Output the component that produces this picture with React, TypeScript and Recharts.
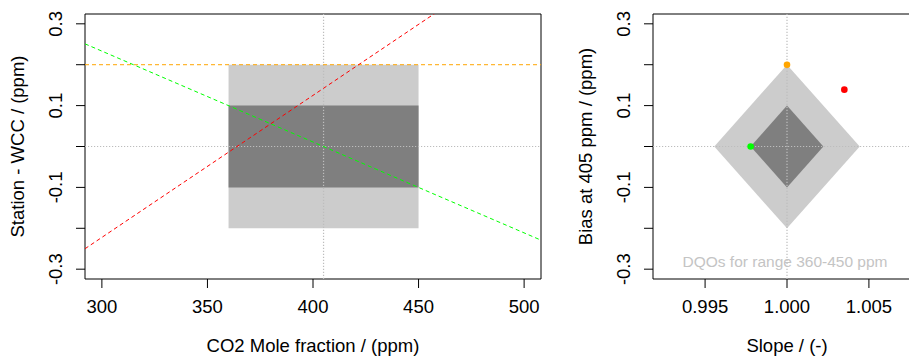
import React from 'react';
import {
  ComposedChart,
  XAxis,
  YAxis,
  Line,
  Area,
  Scatter,
  Cell,
  ReferenceArea,
  ReferenceLine,
  Label,
} from 'recharts';

const FONT = '"Liberation Sans", Arial, sans-serif';
const FS = 18.5;

// axes
const moleTicks = [300, 350, 400, 450, 500];
const biasTicks = [-0.3, -0.2, -0.1, 0, 0.1, 0.2, 0.3];
const biasLabelled = [-0.3, -0.1, 0.1, 0.3];
const slopeTicks = [0.995, 1.0, 1.005];
const moleDomain = [292, 508];
const biasDomain = [-0.324, 0.324];
const slopeDomain = [0.99182, 1.00818];

// DQO boxes (left panel)
const dqoRange = [360, 450];
const refMole = 405;
const outerLimit = 0.2;
const innerLimit = 0.1;

// fitted lines, Station - WCC vs mole fraction
const redLine = [
  { x: 292, y: -0.25 },
  { x: 508, y: 0.5 },
];
const greenLine = [
  { x: 292, y: 0.251 },
  { x: 508, y: -0.229 },
];
const orangeLine = [
  { x: 292, y: 0.2 },
  { x: 508, y: 0.2 },
];

// same fits as slope / bias at 405 ppm (right panel)
const fitSlopes = [1.0035, 0.99778, 1.0];
const fitBiases = [0.139, 0.0, 0.2];
const fitColors = ['#ff0000', '#00ff00', '#ffa500'];

// DQO diamonds (right panel)
const outerDiamond = [
  { slope: 0.99556, bias: [0, 0] },
  { slope: 1.0, bias: [-0.2, 0.2] },
  { slope: 1.00444, bias: [0, 0] },
];
const innerDiamond = [
  { slope: 0.99778, bias: [0, 0] },
  { slope: 1.0, bias: [-0.1, 0.1] },
  { slope: 1.00222, bias: [0, 0] },
];

const H = 358;
const margin = { top: 14, right: 19, bottom: 0, left: 0 };
const dotted = { stroke: '#bdbdbd', strokeWidth: 1.2, strokeDasharray: '1.2 1.8' };
const dashed = '4 3';

function BiasTick(props: any) {
  const { x, y, payload } = props;
  const v = payload.value;
  if (!biasLabelled.some((b) => Math.abs(b - v) < 1e-9)) return <g />;
  return (
    <text
      transform={`translate(${x - 14.5},${y}) rotate(-90)`}
      textAnchor="middle"
      fontSize={FS}
      fill="#000"
    >
      {v.toFixed(1)}
    </text>
  );
}

const yTitle = (text: string) => () =>
  (
    <text
      transform={`translate(24,146.5) rotate(-90)`}
      textAnchor="middle"
      fontSize={FS}
      fill="#000"
    >
      {text}
    </text>
  );

const xTitle = (text: string, cx: number) => () =>
  (
    <text x={cx} y={351.5} textAnchor="middle" fontSize={FS} fill="#000">
      {text}
    </text>
  );

function LeftPanel() {
  return (
    <ComposedChart width={560} height={H} margin={margin}>
      <XAxis
        dataKey="x"
        type="number"
        domain={moleDomain}
        ticks={moleTicks}
        allowDataOverflow
        height={79}
        axisLine={false}
        stroke="#000"
        tickSize={9}
        tickMargin={12}
        tick={{ fill: '#000', fontSize: FS }}
      >
        <Label content={xTitle('CO2 Mole fraction / (ppm)', 313)} />
      </XAxis>
      <YAxis
        type="number"
        domain={biasDomain}
        ticks={biasTicks}
        allowDataOverflow
        width={85}
        axisLine={false}
        stroke="#000"
        tickSize={9}
        tickMargin={0}
        tick={<BiasTick />}
      >
        <Label content={yTitle('Station - WCC / (ppm)')} />
      </YAxis>
      <ReferenceArea
        x1={dqoRange[0]}
        x2={dqoRange[1]}
        y1={-outerLimit}
        y2={outerLimit}
        fill="#cccccc"
        fillOpacity={1}
        stroke="none"
      />
      <ReferenceArea
        x1={dqoRange[0]}
        x2={dqoRange[1]}
        y1={-innerLimit}
        y2={innerLimit}
        fill="#7f7f7f"
        fillOpacity={1}
        stroke="none"
      />
      <ReferenceLine x={refMole} {...dotted} />
      <ReferenceLine y={0} {...dotted} />
      <Line data={orangeLine} dataKey="y" type="linear" stroke={fitColors[2]} strokeWidth={1} strokeDasharray={dashed} dot={false} isAnimationActive={false} />
      <Line data={greenLine} dataKey="y" type="linear" stroke={fitColors[1]} strokeWidth={1} strokeDasharray={dashed} dot={false} isAnimationActive={false} />
      <Line data={redLine} dataKey="y" type="linear" stroke={fitColors[0]} strokeWidth={1} strokeDasharray={dashed} dot={false} isAnimationActive={false} />
      <ReferenceArea
        x1={moleDomain[0]}
        x2={moleDomain[1]}
        y1={biasDomain[0]}
        y2={biasDomain[1]}
        fill="none"
        stroke="#000"
        strokeWidth={1}
      />
    </ComposedChart>
  );
}

function RightPanel() {
  return (
    <ComposedChart width={372} height={H} margin={margin} data={outerDiamond}>
      <XAxis
        dataKey="slope"
        type="number"
        domain={slopeDomain}
        ticks={slopeTicks}
        allowDataOverflow
        height={79}
        axisLine={false}
        stroke="#000"
        tickSize={9}
        tickMargin={12}
        tick={{ fill: '#000', fontSize: FS }}
        tickFormatter={(v: number) => v.toFixed(3)}
      >
        <Label content={xTitle('Slope / (-)', 219)} />
      </XAxis>
      <YAxis
        type="number"
        domain={biasDomain}
        ticks={biasTicks}
        allowDataOverflow
        width={85}
        axisLine={false}
        stroke="#000"
        tickSize={9}
        tickMargin={0}
        tick={<BiasTick />}
      >
        <Label content={yTitle('Bias at 405 ppm / (ppm)')} />
      </YAxis>
      <Area
        dataKey="bias"
        type="linear"
        fill="#cccccc"
        fillOpacity={1}
        stroke="none"
        dot={false}
        activeDot={false}
        isAnimationActive={false}
      />
    </ComposedChart>
  );
}

function RightOverlay() {
  const fits = fitSlopes.map((s, i) => ({ slope: s, bias: fitBiases[i] }));
  return (
    <ComposedChart width={372} height={H} margin={margin} data={innerDiamond}>
      <XAxis
        dataKey="slope"
        type="number"
        domain={slopeDomain}
        allowDataOverflow
        height={79}
        axisLine={false}
        tickLine={false}
        tick={false}
      />
      <YAxis
        dataKey="bias"
        type="number"
        domain={biasDomain}
        allowDataOverflow
        width={85}
        axisLine={false}
        tickLine={false}
        tick={false}
      />
      <Area
        dataKey="bias"
        type="linear"
        fill="#7f7f7f"
        fillOpacity={1}
        stroke="none"
        dot={false}
        activeDot={false}
        isAnimationActive={false}
      />
      <ReferenceLine x={1.0} {...dotted} />
      <ReferenceLine y={0} {...dotted} />
      <ReferenceLine
        y={-0.282}
        stroke="none"
        label={{
          value: 'DQOs for range 360-450 ppm',
          position: 'center',
          fill: '#c4c4c4',
          fontSize: 15.5,
          dx: -2,
        }}
      />
      <Scatter
        data={fits}
        dataKey="bias"
        isAnimationActive={false}
        shape={(p: any) => <circle cx={p.cx} cy={p.cy} r={3.3} fill={p.fill} />}
      >
        {fits.map((f, i) => (
          <Cell key={i} fill={fitColors[i]} />
        ))}
      </Scatter>
      <ReferenceArea
        x1={slopeDomain[0]}
        x2={slopeDomain[1]}
        y1={biasDomain[0]}
        y2={biasDomain[1]}
        fill="none"
        stroke="#000"
        strokeWidth={1}
      />
    </ComposedChart>
  );
}

export default function App() {
  return (
    <div
      style={{
        position: 'fixed',
        left: 0,
        top: 0,
        width: 909,
        height: H,
        overflow: 'hidden',
        background: '#fff',
        fontFamily: FONT,
      }}
    >
      <div style={{ position: 'absolute', left: 0, top: 0 }}>
        <LeftPanel />
      </div>
      <div style={{ position: 'absolute', left: 568, top: 0 }}>
        <RightPanel />
      </div>
      <div style={{ position: 'absolute', left: 568, top: 0, pointerEvents: 'none' }}>
        <RightOverlay />
      </div>
    </div>
  );
}
